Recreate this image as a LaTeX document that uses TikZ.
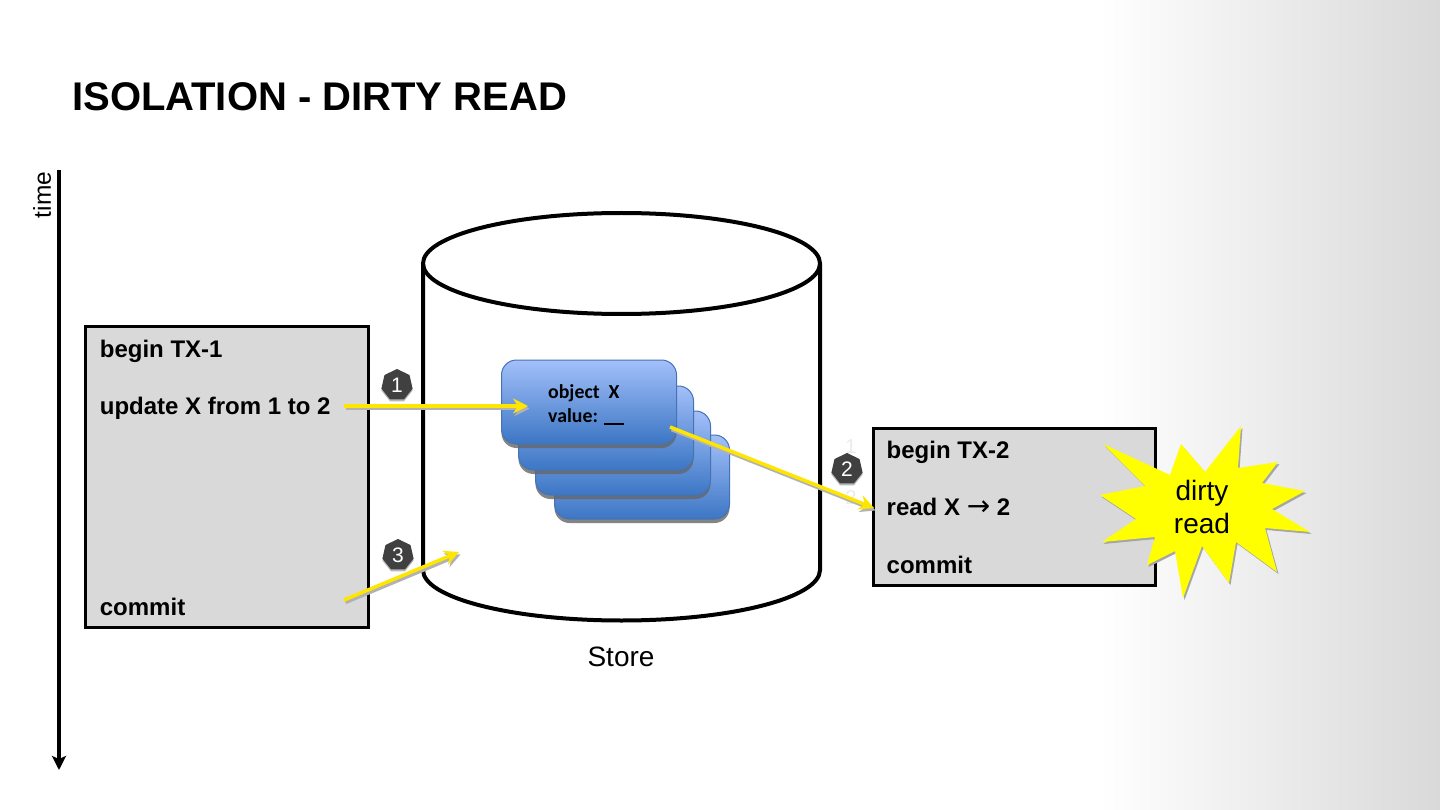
\documentclass[tikz,border=0pt]{standalone}
\usepackage{fontspec}
\setmainfont{Liberation Sans}
\newfontfamily\calfnt{Carlito}
\newfontfamily\arrowfnt{DejaVu Sans}
\usetikzlibrary{arrows.meta,shapes.geometric,shadows}
\definecolor{boxgray}{RGB}{217,217,217}
\definecolor{arrowy}{RGB}{255,230,0}
\definecolor{stary}{RGB}{255,255,0}
\definecolor{cardtop}{RGB}{163,192,250}
\definecolor{cardbot}{RGB}{60,118,196}
\definecolor{cardline}{RGB}{70,115,180}
\definecolor{badge}{RGB}{64,64,64}
\definecolor{bgr}{RGB}{217,217,217}
\tikzset{
 x=1pt,y=-1pt,
 txbox/.style={draw=black,line width=3pt,fill=boxgray},
 txtext/.style={anchor=base west,inner sep=0pt,font=\fontsize{24}{26}\selectfont\bfseries},
 card/.style={draw=cardline,line width=1pt,rounded corners=15pt,top color=cardtop,bottom color=cardbot,
   drop shadow={shadow xshift=0pt,shadow yshift=-4pt,fill=black!60,opacity=.8}},
 yarrow/.style={draw=arrowy,line width=3.5pt,-{Stealth[length=15pt,width=15pt,inset=5pt]}},
 yshadow/.style={draw=black!30,line width=3.5pt,-{Stealth[length=15pt,width=15pt,inset=5pt]}},
 numbadge/.style={regular polygon,regular polygon sides=7,minimum size=32pt,inner sep=0pt,fill=badge,
   text=white,font=\fontsize{21}{21}\selectfont,
   drop shadow={shadow xshift=0pt,shadow yshift=-2pt,fill=black!35,opacity=.8}},
 ghost/.style={text=black!8,inner sep=0pt,font=\fontsize{20}{20}\selectfont},
 label/.style={inner sep=0pt,font=\fontsize{28}{30}\selectfont},
}
\newcommand\starpath{(1103,444) -- (1170,475) -- (1181,444) -- (1205,472) -- (1241,426) -- (1238,468) -- (1278,462) -- (1262,483) -- (1305,491) -- (1272,509) -- (1310,532) -- (1265,528) -- (1277,572) -- (1236,542) -- (1229,583) -- (1202,546) -- (1183,598) -- (1175,551) -- (1147,565) -- (1155,537) -- (1102,542) -- (1136,519) -- (1100,495) -- (1145,486) -- cycle}
\begin{document}
\begin{tikzpicture}
\useasboundingbox (0,0) rectangle (1440,810);
\fill[white] (0,0) rectangle (1440,810);
\shade[left color=white,right color=bgr] (1100,0) rectangle (1440,810);
\node[anchor=base west,inner sep=0pt,font=\fontsize{40}{46}\selectfont\bfseries] (title) at (72,111) {ISOLATION - DIRTY READ};
% timeline
\coordinate (t0) at (59,170);
\coordinate (t1) at (59,770);
\draw[line width=4pt,-{Stealth[length=14pt,width=14pt,inset=3pt]}] (t0) -- (t1);
\node[rotate=90,inner sep=0pt,font=\fontsize{24.5}{26}\selectfont] (time) at (42,195) {time};
% store cylinder
\draw[line width=4pt,fill=white] (423,264) -- (423,570) arc[start angle=180,end angle=360,x radius=198.5,y radius=-50.5] -- (820,264);
\draw[line width=4pt] (621.5,263.5) ellipse[x radius=198.5,y radius=50.5];
\node[label] (store) at (621,657) {Store};
% cards
\node[card,minimum width=175pt,minimum height=84pt] (c4) at (642,477) {};
\node[card,minimum width=175pt,minimum height=84pt] (c3) at (623,453) {};
\node[card,minimum width=175pt,minimum height=84pt] (c2) at (606,428) {};
\node[card,minimum width=175pt,minimum height=84pt] (c1) at (589,402) {};
\node[anchor=base west,inner sep=0pt,font=\calfnt\fontsize{19.8}{20}\selectfont\bfseries] (o1) at (548,398) {object\ \ X};
\node[anchor=base west,inner sep=0pt,font=\calfnt\fontsize{19.8}{20}\selectfont\bfseries] (o2) at (548,422) {value: \rule[-2.5pt]{20pt}{1.6pt}};
% tx1
\node[txbox,anchor=north west,minimum width=283pt,minimum height=301pt] (tx1) at (83.5,324.5) {};
\node[txtext] (a1) at (99.7,357) {begin TX-1};
\node[txtext] (a2) at (99.7,414) {update X from 1 to 2};
\node[txtext] (a3) at (99.7,615) {commit};
% tx2
\node[txbox,anchor=north west,minimum width=282pt,minimum height=157pt] (tx2) at (871.5,426.5) {};
\node[txtext] (b1) at (886.5,458) {begin TX-2};
\node[txtext] (b2) at (886.5,515) {read X {\arrowfnt\mdseries\fontsize{28}{26}\selectfont→} 2};
\node[txtext] (b3) at (886.5,573) {commit};
% badges
\node[numbadge] (n1) at (397,385) {1};
\node[numbadge] (n3) at (398,555) {3};
\node[ghost] (g1) at (851,447) {1};
\node[ghost] (g3) at (851,498) {2};
\node[numbadge] (n2) at (847,469) {2};
% arrows
\coordinate (p1) at (344,406);
\coordinate (p1e) at (528,406);
\coordinate (p2) at (670,427);
\coordinate (p2e) at (874,508);
\coordinate (p3) at (344,600);
\coordinate (p3e) at (459,552);
\draw[yshadow] ([shift={(1.5,2.5)}]p1) -- ([shift={(1.5,2.5)}]p1e);
\draw[yshadow] ([shift={(1.5,2.5)}]p2) -- ([shift={(1.5,2.5)}]p2e);
\draw[yshadow] ([shift={(1.5,2.5)}]p3) -- ([shift={(1.5,2.5)}]p3e);
\draw[yarrow] (p1) -- (p1e);
\draw[yarrow] (p2) -- (p2e);
\draw[yarrow] (p3) -- (p3e);
% star
\fill[black!35,shift={(1.5,2)}] \starpath;
\fill[stary] \starpath;
\node[align=center,inner sep=0pt,font=\fontsize{28}{33}\selectfont] (dr) at (1202,507) {dirty\\read};
\end{tikzpicture}
\end{document}
